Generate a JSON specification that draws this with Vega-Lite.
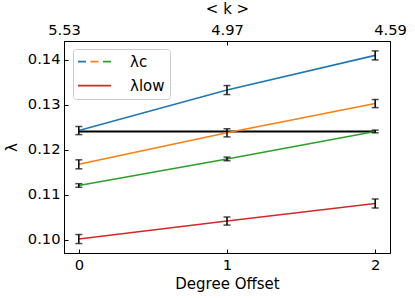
{
  "$schema": "https://vega.github.io/schema/vega-lite/v6.json",
  "width": 326,
  "height": 212,
  "autosize": {"type": "none"},
  "padding": {"left": 64, "top": 41, "right": 25, "bottom": 45},
  "config": {
    "font": "DejaVu Sans",
    "view": {"stroke": "black", "strokeWidth": 1},
    "axis": {
      "domainColor": "black", "tickColor": "black", "labelColor": "black", "titleColor": "black",
      "labelFont": "DejaVu Sans", "titleFont": "DejaVu Sans",
      "labelFontSize": 14.7, "titleFontSize": 15, "titleFontWeight": "normal",
      "tickSize": -4, "labelPadding": 8, "grid": false, "domainWidth": 1, "tickWidth": 1
    }
  },
  "datasets": {
    "series": [
      {"x": 0, "y": 0.1243, "lo": 0.1234, "hi": 0.1252, "series": "A", "grp": "λc"},
      {"x": 1, "y": 0.1333, "lo": 0.1323, "hi": 0.1343, "series": "A", "grp": "λc"},
      {"x": 2, "y": 0.1410, "lo": 0.1400, "hi": 0.1420, "series": "A", "grp": "λc"},
      {"x": 0, "y": 0.1168, "lo": 0.1158, "hi": 0.1178, "series": "B", "grp": "λc"},
      {"x": 1, "y": 0.1238, "lo": 0.1229, "hi": 0.1247, "series": "B", "grp": "λc"},
      {"x": 2, "y": 0.1303, "lo": 0.1294, "hi": 0.1312, "series": "B", "grp": "λc"},
      {"x": 0, "y": 0.1121, "lo": 0.1117, "hi": 0.1125, "series": "C", "grp": "λc"},
      {"x": 1, "y": 0.1180, "lo": 0.1176, "hi": 0.1184, "series": "C", "grp": "λc"},
      {"x": 2, "y": 0.1241, "lo": 0.1238, "hi": 0.1244, "series": "C", "grp": "λc"},
      {"x": 0, "y": 0.1002, "lo": 0.0992, "hi": 0.1012, "series": "D", "grp": "λlow"},
      {"x": 1, "y": 0.1042, "lo": 0.1033, "hi": 0.1051, "series": "D", "grp": "λlow"},
      {"x": 2, "y": 0.1081, "lo": 0.1071, "hi": 0.1091, "series": "D", "grp": "λlow"}
    ],
    "ref": [
      {"x": 0, "y": 0.1241},
      {"x": 2, "y": 0.1241}
    ]
  },
  "layer": [
    {
      "data": {"name": "ref"},
      "mark": {"type": "line", "color": "black", "strokeWidth": 2},
      "encoding": {
        "x": {
          "field": "x", "type": "quantitative",
          "scale": {"domain": [-0.1, 2.1], "nice": false, "zero": false},
          "axis": {
            "orient": "top", "values": [-0.1, 1, 2.1],
            "labelExpr": "datum.value < 0 ? '5.53' : (datum.value > 2 ? '4.59' : '4.97')",
            "labelFlush": false, "labelOverlap": false,
            "title": "< k >", "titlePadding": 6
          }
        },
        "y": {
          "field": "y", "type": "quantitative",
          "scale": {"domain": [0.0971, 0.1442], "nice": false, "zero": false},
          "axis": {"orient": "left", "values": [0.10, 0.11, 0.12, 0.13, 0.14], "format": ".2f", "title": "λ", "titlePadding": 8}
        }
      }
    },
    {
      "data": {"name": "series"},
      "mark": {"type": "line", "strokeWidth": 1.5, "opacity": 0},
      "encoding": {
        "x": {"field": "x", "type": "quantitative", "axis": null},
        "y": {
          "field": "y", "type": "quantitative",
          "axis": {"orient": "left", "values": [0.10, 0.11, 0.12, 0.13, 0.14], "format": ".2f", "title": "λ", "titlePadding": 8}
        },
        "color": {
          "field": "series", "type": "nominal",
          "scale": {"domain": ["A", "B", "C", "D"], "range": ["#1f77b4", "#ff7f0e", "#2ca02c", "#d62728"]},
          "legend": null
        },
        "strokeDash": {
          "field": "grp", "type": "nominal",
          "scale": {"domain": ["λc", "λlow"], "range": [[8, 4.5], [1, 0]]},
          "legend": {
            "orient": "none", "legendX": 9, "legendY": 8, "title": null,
            "symbolType": "M-3,0H3M-3,0.06H3", "symbolSize": 121, "symbolStrokeWidth": 1.5,
            "symbolOffset": 9, "symbolOpacity": 1,
            "labelFont": "DejaVu Sans", "labelFontSize": 15, "labelColor": "black", "labelOffset": 28,
            "fillColor": "rgba(255,255,255,0.8)", "strokeColor": "#cccccc", "cornerRadius": 3,
            "padding": 5, "rowPadding": 8,
            "encode": {
              "symbols": {
                "update": {
                  "stroke": [
                    {"test": "datum.value === 'λc'", "value": {"gradient": "linear", "stops": [
                      {"offset": 0, "color": "#1f77b4"}, {"offset": 0.33, "color": "#1f77b4"},
                      {"offset": 0.33, "color": "#ff7f0e"}, {"offset": 0.67, "color": "#ff7f0e"},
                      {"offset": 0.67, "color": "#2ca02c"}, {"offset": 1, "color": "#2ca02c"}]}},
                    {"value": "#d62728"}
                  ],
                  "fill": {"value": "transparent"}
                }
              }
            }
          }
        }
      }
    },
    {
      "data": {"name": "series"},
      "mark": {"type": "line", "strokeWidth": 1.6},
      "encoding": {
        "x": {
          "field": "x", "type": "quantitative",
          "axis": {
            "orient": "bottom", "values": [0, 1, 2], "format": "d",
            "labelFlush": false, "title": "Degree Offset", "titlePadding": 5
          }
        },
        "y": {
          "field": "y", "type": "quantitative",
          "axis": {"orient": "left", "values": [0.10, 0.11, 0.12, 0.13, 0.14], "format": ".2f", "title": "λ", "titlePadding": 8}
        },
        "color": {
          "field": "series", "type": "nominal",
          "scale": {"domain": ["A", "B", "C", "D"], "range": ["#1f77b4", "#ff7f0e", "#2ca02c", "#d62728"]},
          "legend": null
        }
      }
    },
    {
      "data": {"name": "series"},
      "mark": {"type": "errorbar", "color": "black", "thickness": 1.5, "ticks": {"size": 7, "thickness": 1.5}},
      "encoding": {
        "x": {"field": "x", "type": "quantitative", "axis": null},
        "y": {
          "field": "lo", "type": "quantitative",
          "axis": {"orient": "left", "values": [0.10, 0.11, 0.12, 0.13, 0.14], "format": ".2f", "title": "λ", "titlePadding": 8}
        },
        "y2": {"field": "hi"}
      }
    }
  ],
  "resolve": {"axis": {"x": "independent"}}
}
